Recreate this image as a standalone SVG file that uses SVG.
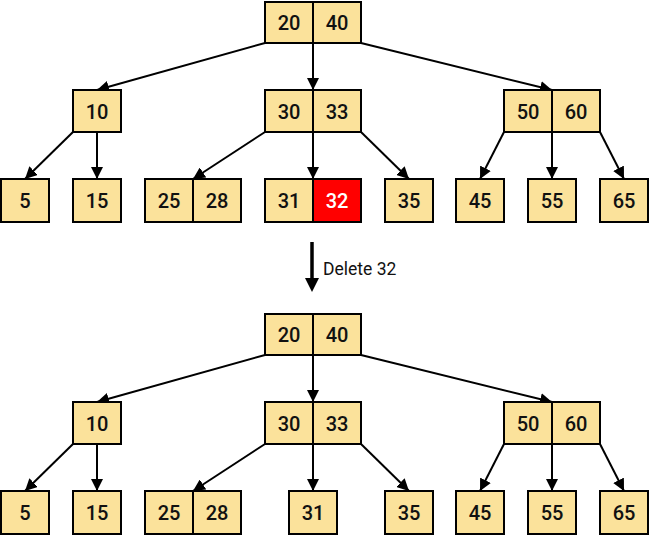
<svg xmlns="http://www.w3.org/2000/svg" width="649" height="539" viewBox="0 0 649 539">
<defs>
<style>
.c{fill:#fbe29b;stroke:#000;stroke-width:2}
.r{fill:#ff0000;stroke:#000;stroke-width:2}
.t{font-family:Roboto,"DejaVu Sans Condensed",sans-serif;font-weight:500;font-size:20px;text-anchor:middle;fill:#111}
.w{fill:#fff}
.e{stroke:#000;stroke-width:2;fill:none;marker-end:url(#a)}
.l{font-family:Roboto,"DejaVu Sans Condensed",sans-serif;font-size:17.5px;fill:#111}
</style>
<marker id="a" viewBox="0 0 10 10" refX="10" refY="5" markerWidth="6" markerHeight="6" markerUnits="strokeWidth" orient="auto">
<path d="M0,0 L10,5 L0,10 z" fill="#000"/>
</marker>
</defs>
<g id="edges">
<line class="e" x1="265" y1="43" x2="97" y2="90"/>
<line class="e" x1="313" y1="43" x2="313" y2="90"/>
<line class="e" x1="361" y1="43" x2="552" y2="90"/>
<line class="e" x1="73" y1="132" x2="25" y2="179"/>
<line class="e" x1="97" y1="132" x2="97" y2="179"/>
<line class="e" x1="265" y1="132" x2="193" y2="179"/>
<line class="e" x1="313" y1="132" x2="313" y2="179"/>
<line class="e" x1="361" y1="132" x2="409" y2="179"/>
<line class="e" x1="504" y1="132" x2="480" y2="179"/>
<line class="e" x1="552" y1="132" x2="552" y2="179"/>
<line class="e" x1="600" y1="132" x2="624" y2="179"/>
<line class="e" x1="265" y1="355" x2="97" y2="402"/>
<line class="e" x1="313" y1="355" x2="313" y2="402"/>
<line class="e" x1="361" y1="355" x2="552" y2="402"/>
<line class="e" x1="73" y1="444" x2="25" y2="491"/>
<line class="e" x1="97" y1="444" x2="97" y2="491"/>
<line class="e" x1="265" y1="444" x2="193" y2="491"/>
<line class="e" x1="313" y1="444" x2="313" y2="491"/>
<line class="e" x1="361" y1="444" x2="409" y2="491"/>
<line class="e" x1="504" y1="444" x2="480" y2="491"/>
<line class="e" x1="552" y1="444" x2="552" y2="491"/>
<line class="e" x1="600" y1="444" x2="624" y2="491"/>
</g>
<g id="op">
<line x1="312" y1="242" x2="312" y2="280" stroke="#000" stroke-width="3.5"/>
<path d="M305,278 L319,278 L312,292 z" fill="#000"/>
<text class="l" x="323" y="275">Delete 32</text>
</g>
<g id="t1-root"><rect class="c" x="265" y="2" width="48" height="41"/><rect class="c" x="313" y="2" width="48" height="41"/><text class="t" x="289" y="30">20</text><text class="t" x="337" y="30">40</text></g>
<g id="t1-n10"><rect class="c" x="73" y="90" width="48" height="42"/><text class="t" x="97" y="119">10</text></g>
<g id="t1-n3033"><rect class="c" x="265" y="90" width="48" height="42"/><rect class="c" x="313" y="90" width="48" height="42"/><text class="t" x="289" y="119">30</text><text class="t" x="337" y="119">33</text></g>
<g id="t1-n5060"><rect class="c" x="504" y="90" width="48" height="42"/><rect class="c" x="552" y="90" width="48" height="42"/><text class="t" x="528" y="119">50</text><text class="t" x="576" y="119">60</text></g>
<g id="t1-l5"><rect class="c" x="1" y="179" width="48" height="43"/><text class="t" x="25" y="208">5</text></g>
<g id="t1-l15"><rect class="c" x="73" y="179" width="48" height="43"/><text class="t" x="97" y="208">15</text></g>
<g id="t1-l2528"><rect class="c" x="145" y="179" width="48" height="43"/><rect class="c" x="193" y="179" width="48" height="43"/><text class="t" x="169" y="208">25</text><text class="t" x="217" y="208">28</text></g>
<g id="t1-l3132"><rect class="c" x="265" y="179" width="48" height="43"/><rect class="r" x="313" y="179" width="48" height="43"/><text class="t" x="289" y="208">31</text><text class="t w" x="337" y="208">32</text></g>
<g id="t1-l35"><rect class="c" x="385" y="179" width="48" height="43"/><text class="t" x="409" y="208">35</text></g>
<g id="t1-l45"><rect class="c" x="456" y="179" width="48" height="43"/><text class="t" x="480" y="208">45</text></g>
<g id="t1-l55"><rect class="c" x="528" y="179" width="48" height="43"/><text class="t" x="552" y="208">55</text></g>
<g id="t1-l65"><rect class="c" x="600" y="179" width="48" height="43"/><text class="t" x="624" y="208">65</text></g>
<g id="t2-root"><rect class="c" x="265" y="314" width="48" height="41"/><rect class="c" x="313" y="314" width="48" height="41"/><text class="t" x="289" y="342">20</text><text class="t" x="337" y="342">40</text></g>
<g id="t2-n10"><rect class="c" x="73" y="402" width="48" height="42"/><text class="t" x="97" y="431">10</text></g>
<g id="t2-n3033"><rect class="c" x="265" y="402" width="48" height="42"/><rect class="c" x="313" y="402" width="48" height="42"/><text class="t" x="289" y="431">30</text><text class="t" x="337" y="431">33</text></g>
<g id="t2-n5060"><rect class="c" x="504" y="402" width="48" height="42"/><rect class="c" x="552" y="402" width="48" height="42"/><text class="t" x="528" y="431">50</text><text class="t" x="576" y="431">60</text></g>
<g id="t2-l5"><rect class="c" x="1" y="491" width="48" height="43"/><text class="t" x="25" y="520">5</text></g>
<g id="t2-l15"><rect class="c" x="73" y="491" width="48" height="43"/><text class="t" x="97" y="520">15</text></g>
<g id="t2-l2528"><rect class="c" x="145" y="491" width="48" height="43"/><rect class="c" x="193" y="491" width="48" height="43"/><text class="t" x="169" y="520">25</text><text class="t" x="217" y="520">28</text></g>
<g id="t2-l31"><rect class="c" x="289" y="491" width="48" height="43"/><text class="t" x="313" y="520">31</text></g>
<g id="t2-l35"><rect class="c" x="385" y="491" width="48" height="43"/><text class="t" x="409" y="520">35</text></g>
<g id="t2-l45"><rect class="c" x="456" y="491" width="48" height="43"/><text class="t" x="480" y="520">45</text></g>
<g id="t2-l55"><rect class="c" x="528" y="491" width="48" height="43"/><text class="t" x="552" y="520">55</text></g>
<g id="t2-l65"><rect class="c" x="600" y="491" width="48" height="43"/><text class="t" x="624" y="520">65</text></g>
</svg>
